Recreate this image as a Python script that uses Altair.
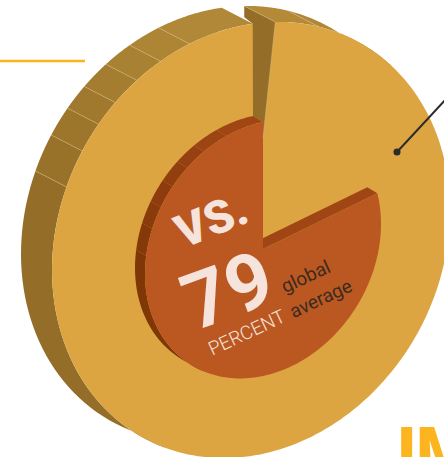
import numpy as np
import pandas as pd
import altair as alt

W, H = 444, 457

# Headline figure and its complement
SHARE = 79
REST = 100 - SHARE

# Outer disc: centre, half-widths and shear of the tilted ellipse, depth of the side wall
OUTER = dict(cx=251, cy=240, a=199, b=216, k=30)
OUTER_DEPTH = (-31, -16)
# Inner disc
INNER = dict(cx=263, cy=249, a=118, b=127, k=25)
INNER_DEPTH = (-10, -6)

GOLD = "#DCA542"
RUST = "#BB5821"
WALL = "#946E29"
INNER_WALL = "#A04615"
CREAM = "#F5E3DC"
AMBER = "#FDB51F"
SEAM = "#D9C08A"

# Segments of the outer side wall, as angles on the ellipse, with their shades
rim_angles = [89.5, 108, 117, 125, 133, 140, 148, 158, 245]
rim_colors = ["#B18837", "#AD8535", "#A98132", "#A57D30", "#A1792E", "#9D762C", "#99722A", "#946E29"]
right_rim_angles = [83, 70, 45]
right_rim_colors = ["#B48A38", "#B18737"]

# Segments of the inner side wall
inner_angles = [90, 108, 120, 130, 140, 150, 160, 172, 240]
inner_colors = ["#A04615", "#9C4414", "#964112", "#923F10", "#8E3C0D", "#8A3B0B", "#853909", "#803706"]


def on_ellipse(e, t, off=(0, 0)):
    t = np.radians(np.asarray(t, dtype=float))
    x = e["cx"] + e["a"] * np.cos(t) + off[0]
    y = e["cy"] - (e["k"] * np.cos(t) + e["b"] * np.sin(t)) + off[1]
    return np.atleast_1d(x), np.atleast_1d(y)


rows = []


def add_poly(xs, ys, color):
    pid = len(set(r["id"] for r in rows))
    for i, (px, py) in enumerate(zip(xs, ys)):
        rows.append(dict(id=pid, ord=i, x=float(px), y=float(py), c=color))
    rows.append(dict(id=pid, ord=len(xs), x=float(xs[0]), y=float(ys[0]), c=color))


def add_band(e, off, t0, t1, color):
    ts = np.linspace(t0, t1, 40)
    fx, fy = on_ellipse(e, ts)
    bx, by = on_ellipse(e, ts, off)
    add_poly(np.r_[bx, fx[::-1]], np.r_[by, fy[::-1]], color)


# Outer side wall
for t0, t1, c in zip(rim_angles[:-1], rim_angles[1:], rim_colors):
    add_band(OUTER, OUTER_DEPTH, t0, t1, c)
for t0, t1, c in zip(right_rim_angles[:-1], right_rim_angles[1:], right_rim_colors):
    add_band(OUTER, OUTER_DEPTH, t0, t1, c)

# Gold face
ts = np.linspace(0, 360, 240)
add_poly(*on_ellipse(OUTER, ts), GOLD)

# Radial wall of the gap at twelve o'clock
ox, oy = on_ellipse(OUTER, rim_angles[0])
rx, ry = on_ellipse(OUTER, right_rim_angles[0])
ix, iy = on_ellipse(INNER, 90)
add_poly(
    [rx[0] + OUTER_DEPTH[0], rx[0], ix[0], ix[0], ix[0] + INNER_DEPTH[0], ox[0], ox[0] - 9, rx[0] + OUTER_DEPTH[0]],
    [ry[0] + OUTER_DEPTH[1], ry[0], iy[0] + 16, iy[0], iy[0] + INNER_DEPTH[1], oy[0], oy[0] - 7, ry[0] + OUTER_DEPTH[1] + 11],
    WALL,
)

# Inner side wall, then the rust sector drawn from the share
end_angle = 90 - 360 * REST / 100
for t0, t1, c in zip(inner_angles[:-1], inner_angles[1:], inner_colors):
    add_band(INNER, INNER_DEPTH, t0, t1, c)
ex, ey = on_ellipse(INNER, end_angle)
apex = (INNER["cx"], INNER["cy"])
add_poly(
    [apex[0], ex[0], ex[0] + INNER_DEPTH[0], apex[0] + INNER_DEPTH[0]],
    [apex[1], ey[0], ey[0] + INNER_DEPTH[1], apex[1] + INNER_DEPTH[1]],
    INNER_WALL,
)
ts = np.linspace(90, 90 + 360 * SHARE / 100, 200)
sx, sy = on_ellipse(INNER, ts)
add_poly(np.r_[apex[0], sx], np.r_[apex[1], sy], RUST)

polys = pd.DataFrame(rows)

x = alt.X("x:Q", scale=alt.Scale(domain=[0, W], range=[0, W], nice=False, zero=False), axis=None)
y = alt.Y("y:Q", scale=alt.Scale(domain=[0, H], range=[0, H], nice=False, zero=False), axis=None)

shapes = alt.Chart(polys).mark_line(strokeWidth=0, clip=True, interpolate="linear").encode(
    x=x, y=y, order="ord:Q", detail="id:N", fill=alt.Fill("c:N", scale=None)
)

# Seams between the wall segments, and the light edges of the gap's wall
seam_rows = []
for i, t in enumerate(rim_angles[1:-1] + right_rim_angles[:2]):
    fx, fy = on_ellipse(OUTER, t)
    bx, by = on_ellipse(OUTER, t, OUTER_DEPTH)
    seam_rows += [dict(id=i, ord=0, x=fx[0], y=fy[0]), dict(id=i, ord=1, x=bx[0], y=by[0])]
seam_rows += [dict(id=99, ord=0, x=rx[0], y=ry[0]), dict(id=99, ord=1, x=ix[0], y=iy[0] + 16)]
seams = alt.Chart(pd.DataFrame(seam_rows)).mark_line(stroke=SEAM, strokeWidth=0.6, opacity=0.7).encode(
    x=x, y=y, order="ord:Q", detail="id:N"
)

# Amber rule at the upper left and the dark leader on the right
rule_df = pd.DataFrame(dict(x=[0, 85], y=[61, 61]))
rule = alt.Chart(rule_df).mark_line(stroke=AMBER, strokeWidth=2.5).encode(x=x, y=y)
leader_df = pd.DataFrame(dict(x=[397, 446], y=[152, 99]))
leader = alt.Chart(leader_df).mark_line(stroke="#2B2B2B", strokeWidth=2, clip=True).encode(x=x, y=y)
dot = alt.Chart(leader_df.iloc[[0]]).mark_circle(color="#2B2B2B", size=50, opacity=1).encode(x=x, y=y)


def label(text, px, py, size, color, angle, font="Roboto", weight="normal"):
    df = pd.DataFrame(dict(x=[px], y=[py]))
    return alt.Chart(df).mark_text(
        text=text, fontSize=size, color=color, angle=angle, font=font, fontWeight=weight,
        align="center", baseline="middle",
    ).encode(x=x, y=y)


texts = [
    label("VS.", 212, 222, 46, CREAM, 338, weight=900),
    label(str(SHARE), 229, 294, 78, CREAM, 340, weight=700),
    label("PERCENT", 247, 333, 19, CREAM, 335, weight=300),
    label("global", 306, 277, 19, "#3D2A20", 335),
    label("average", 321, 299, 19, "#3D2A20", 335),
]
im = alt.Chart(pd.DataFrame(dict(x=[397], y=[473]))).mark_text(
    text="IM", fontSize=64, color=AMBER, font="Roboto", fontWeight=900, align="left", baseline="alphabetic"
).encode(x=x, y=y)

chart = alt.layer(shapes, seams, rule, leader, dot, *texts, im).properties(
    width=W, height=H, padding=0, autosize=alt.AutoSizeParams(type="none"), background="white"
).configure_view(stroke=None)

chart.save("out.html", embed_options={"renderer": "svg", "actions": False})
